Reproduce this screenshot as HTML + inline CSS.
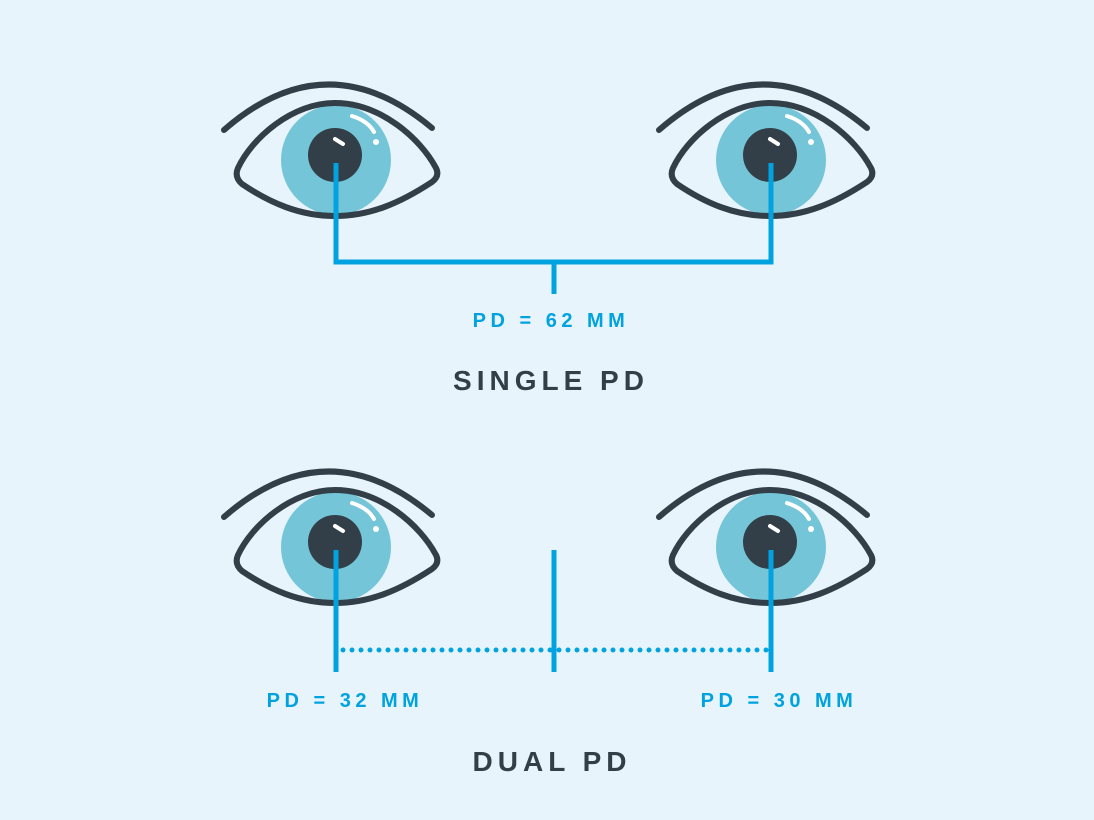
<!DOCTYPE html>
<html><head><style>
html,body{margin:0;padding:0;background:#e8f4fb;}
svg{display:block}
text{font-family:"Liberation Sans",sans-serif;font-weight:bold;}
</style></head><body>
<svg width="1094" height="820" viewBox="0 0 1094 820">
<defs>
<g id="eye">
  <path d="M224,130 Q327,40 432,128" fill="none" stroke="#333f48" stroke-width="6" stroke-linecap="round"/>
  <circle cx="336" cy="160" r="55" fill="#74c5d8"/>
  <path d="M238,168 C252,138 292,103 335,103 C380,103 420,138 436,168 Q440,176 432,182 C400,203 370,216 335,216 C300,216 270,203 242,184 Q234,177 238,168 Z" fill="none" stroke="#333f48" stroke-width="6" stroke-linejoin="round"/>
  <circle cx="335" cy="155" r="27" fill="#333f48"/>
  <path d="M335,139 L343,144" stroke="#fff" stroke-width="4" stroke-linecap="round"/>
  <path d="M352,116 Q368,121 374,132" fill="none" stroke="#fff" stroke-width="4" stroke-linecap="round"/>
  <circle cx="376" cy="142" r="3" fill="#fff"/>
</g>
</defs>
<use href="#eye"/>
<use href="#eye" transform="translate(435,0)"/>
<use href="#eye" transform="translate(0,387)"/>
<use href="#eye" transform="translate(435,387)"/>
<g stroke="#00a3e0" stroke-width="5" fill="none" stroke-linecap="butt">
  <path d="M336,163 V262 H771 V163"/>
  <path d="M554,262 V294"/>
  <path d="M336,550 V672"/>
  <path d="M771,550 V672"/>
  <path d="M554,550 V672"/>
</g>
<path d="M343,650 H770" stroke="#00a3e0" stroke-width="5" stroke-linecap="round" stroke-dasharray="0 9"/>
<g fill="#00a3e0" font-size="20" text-anchor="middle" letter-spacing="4.5">
  <text x="551" y="327">PD = 62 MM</text>
  <text x="345" y="707">PD = 32 MM</text>
  <text x="779" y="707">PD = 30 MM</text>
</g>
<g fill="#333f48" font-size="28" text-anchor="middle" letter-spacing="5">
  <text x="551" y="390">SINGLE PD</text>
  <text x="552" y="771">DUAL PD</text>
</g>
</svg>
</body></html>
